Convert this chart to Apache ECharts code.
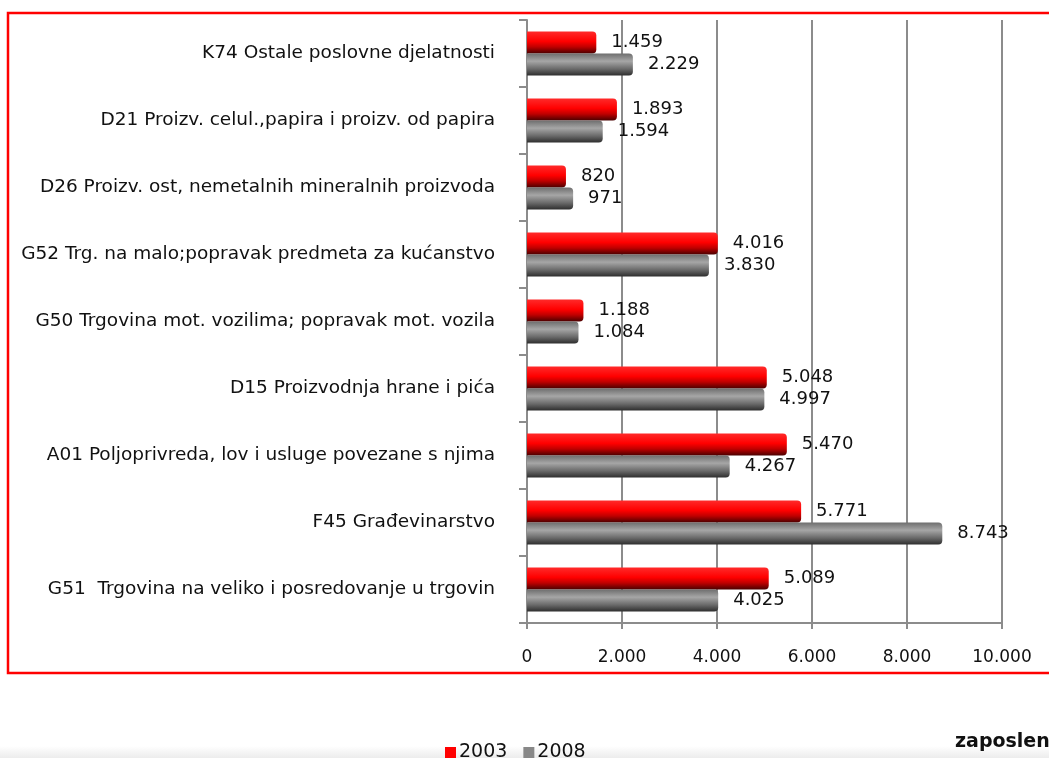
<!DOCTYPE html>
<html>
<head>
<meta charset="utf-8">
<script src="https://cdn.jsdelivr.net/npm/echarts@6/dist/echarts.min.js"></script>
<style>
html,body{margin:0;padding:0;background:#fff;}
#chart{width:1049px;height:758px;}
</style>
</head>
<body>
<div id="chart"></div>
<script>
// Categories listed bottom to top
const categories = [
  "G51  Trgovina na veliko i posredovanje u trgovin",
  "F45 Građevinarstvo",
  "A01 Poljoprivreda, lov i usluge povezane s njima",
  "D15 Proizvodnja hrane i pića",
  "G50 Trgovina mot. vozilima; popravak mot. vozila",
  "G52 Trg. na malo;popravak predmeta za kućanstvo",
  "D26 Proizv. ost, nemetalnih mineralnih proizvoda",
  "D21 Proizv. celul.,papira i proizv. od papira",
  "K74 Ostale poslovne djelatnosti"
];
const values2003 = [5089, 5771, 5470, 5048, 1188, 4016, 820, 1893, 1459];
const values2008 = [4025, 8743, 4267, 4997, 1084, 3830, 971, 1594, 2229];
const seriesNames = ["2003", "2008"];
const seriesColors = ["#ff0000", "#888888"];
const xTicks = [0, 2000, 4000, 6000, 8000, 10000];
const unitLabel = "zaposleni";

function fmt(v){ return String(v).replace(/\B(?=(\d{3})+(?!\d))/g, '.'); }

const chart = echarts.init(document.getElementById('chart'));
const redGrad = new echarts.graphic.LinearGradient(0,0,0,1,[
  {offset:0,color:'#ff2a2a'},{offset:0.45,color:'#ff0000'},{offset:0.7,color:'#c00000'},{offset:1,color:'#4a0000'}]);
const grayGrad = new echarts.graphic.LinearGradient(0,0,0,1,[
  {offset:0,color:'#6e6e6e'},{offset:0.35,color:'#a6a6a6'},{offset:0.7,color:'#6a6a6a'},{offset:1,color:'#2e2e2e'}]);

const labelStyle = {
  show:true, position:'right', distance:15,
  fontFamily:'DejaVu Sans', fontSize:18, color:'#111',
  formatter: p => fmt(p.value)
};

chart.setOption({
  animation:false,
  backgroundColor:'#ffffff',
  textStyle:{fontFamily:'DejaVu Sans'},
  grid:{left:527, top:20, width:475, height:603, containLabel:false},
  legend:{
    data:seriesNames.map((n,i)=>({name:n, itemStyle:{color:seriesColors[i]}})),
    left:440, top:738, itemWidth:11, itemHeight:11, itemGap:16,
    icon:'rect',
    textStyle:{fontFamily:'DejaVu Sans', fontSize:19, color:'#111', padding:[0,0,0,-2]}
  },
  xAxis:{
    type:'value', min:xTicks[0], max:xTicks[xTicks.length-1], interval:xTicks[1]-xTicks[0],
    axisLine:{show:true, lineStyle:{color:'#8c8c8c', width:2}},
    axisTick:{show:true, length:6, lineStyle:{color:'#8c8c8c', width:2}},
    splitLine:{show:true, lineStyle:{color:'#8c8c8c', width:2}},
    axisLabel:{margin:26, fontFamily:'DejaVu Sans', fontSize:17, color:'#111', formatter:v=>fmt(v)}
  },
  yAxis:{
    type:'category', data:categories,
    axisLine:{show:true, lineStyle:{color:'#8c8c8c', width:2}},
    axisTick:{show:true, length:8, lineStyle:{color:'#8c8c8c', width:2}},
    axisLabel:{margin:32, fontFamily:'DejaVu Sans', fontSize:18.5, color:'#111'}
  },
  series:[
    {name:seriesNames[0], type:'bar', data:values2003, barWidth:22, barGap:'0%',
     itemStyle:{color:redGrad, borderRadius:[0,4,4,0]}, label:labelStyle},
    {name:seriesNames[1], type:'bar', data:values2008, barWidth:22, barGap:'0%',
     itemStyle:{color:grayGrad, borderRadius:[0,4,4,0]}, label:labelStyle}
  ],
  graphic:[
    {type:'rect', shape:{x:0, y:746, width:1049, height:12}, silent:true, z:-10,
     style:{fill:new echarts.graphic.LinearGradient(0,0,0,1,[{offset:0,color:'#ffffff'},{offset:1,color:'#ececec'}])}},
    {type:'rect', shape:{x:8, y:13, width:1070, height:660}, style:{fill:null, stroke:'#ff0000', lineWidth:2.5}, z:10},
    {type:'text', left:955, top:733, style:{text:unitLabel, font:'bold 19px "DejaVu Sans"', fill:'#111'}}
  ]
});
</script>
</body>
</html>
